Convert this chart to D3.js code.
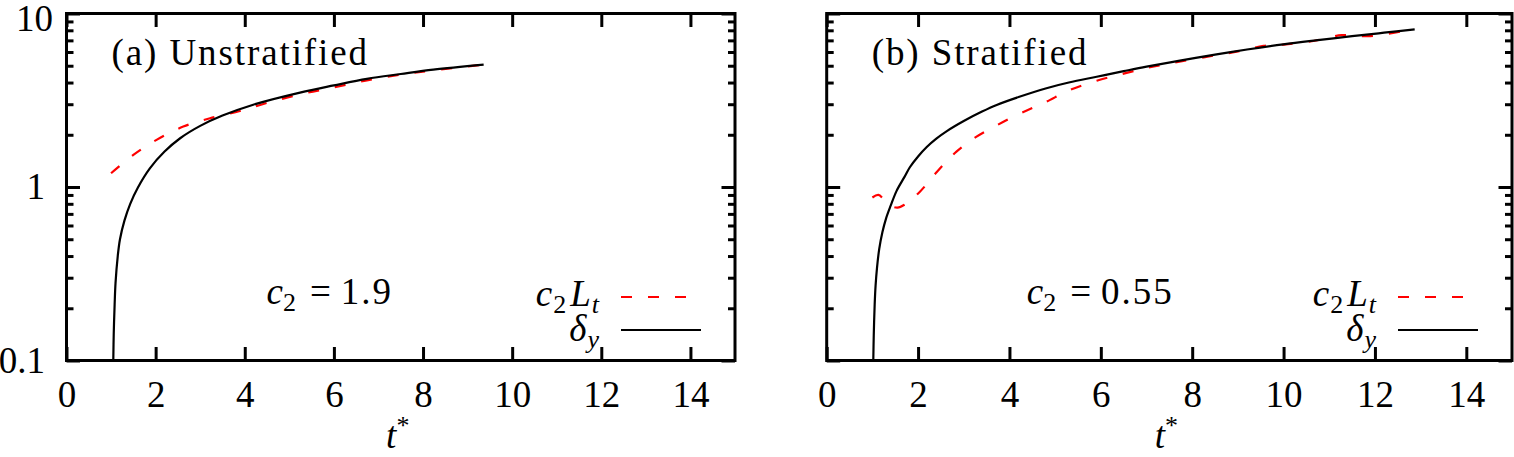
<!DOCTYPE html>
<html>
<head>
<meta charset="utf-8">
<script src="https://cdn.jsdelivr.net/npm/d3@7"></script>
<style>
  body { margin: 0; background: #fff; }
  svg, svg text { font-family: "Liberation Serif", "DejaVu Serif", serif; fill: #000; }
</style>
</head>
<body>
<svg id="chart" width="1514" height="457" font-family="Liberation Serif, DejaVu Serif, serif"></svg>
<script>
// tick values
const xTicks = [0, 2, 4, 6, 8, 10, 12, 14];
const yMajor = [0.1, 1, 10];
const yMajorLabels = ["0.1", "1", "10"];

// (a) unstratified: delta_y (solid) and c2*Lt (dashed)
const tDeltaA = [1.05, 1.06, 1.08, 1.10, 1.15, 1.20, 1.30, 1.43, 1.60, 1.87, 2.20, 2.55, 3.00, 3.50, 4.19, 5.24, 6.00, 6.74, 7.50, 8.23, 9.36];
const deltaA  = [0.10, 0.143, 0.21, 0.279, 0.40, 0.50, 0.64, 0.80, 0.99, 1.28, 1.60, 1.91, 2.25, 2.58, 2.98, 3.50, 3.85, 4.20, 4.48, 4.75, 5.08];
const tLtA    = [1.00, 1.50, 2.02, 2.62, 3.22, 3.89, 4.49, 5.24, 6.00, 6.74, 7.50, 8.23, 9.30];
const c2LtA   = [1.20, 1.53, 1.87, 2.23, 2.49, 2.74, 3.05, 3.42, 3.75, 4.12, 4.45, 4.70, 5.05];

// (b) stratified
const tDeltaB = [1.02, 1.03, 1.05, 1.07, 1.10, 1.15, 1.22, 1.30, 1.40, 1.53, 1.70, 1.82, 2.00, 2.19, 2.40, 2.63, 3.00, 3.40, 3.72, 4.20, 4.81, 5.30, 5.91, 6.50, 7.00, 7.73, 8.50, 9.20, 9.99, 10.70, 11.50, 12.20, 12.87];
const deltaB  = [0.10, 0.14, 0.21, 0.27, 0.34, 0.44, 0.55, 0.66, 0.78, 0.95, 1.14, 1.30, 1.50, 1.70, 1.90, 2.10, 2.40, 2.72, 2.97, 3.30, 3.71, 4.00, 4.32, 4.65, 4.94, 5.35, 5.80, 6.20, 6.64, 7.00, 7.40, 7.75, 8.11];
const tLtB    = [1.00, 1.13, 1.25, 1.40, 1.55, 1.70, 2.04, 2.41, 2.84, 3.28, 3.70, 4.08, 4.50, 4.81, 5.30, 5.91, 6.50, 7.00, 7.50, 8.31, 9.00, 9.56, 10.00, 10.65, 11.27, 11.85, 12.55];
const c2LtB   = [0.87, 0.90, 0.85, 0.78, 0.76, 0.79, 0.94, 1.22, 1.60, 1.95, 2.25, 2.54, 2.85, 3.10, 3.60, 4.10, 4.50, 4.85, 5.15, 5.62, 6.05, 6.50, 6.62, 6.94, 7.50, 7.40, 7.85];

const panels = [
  {left: 66.5, right: 735, labels: true, title: "(a) Unstratified", c2: "1.9",
   solid: [tDeltaA, deltaA], dashed: [tLtA, c2LtA]},
  {left: 826.7, right: 1512, labels: false, title: "(b) Stratified", c2: "0.55",
   solid: [tDeltaB, deltaB], dashed: [tLtB, c2LtB]}
];

const plotTop = 13.5, plotBottom = 360.5;
const fontSize = 37, subSize = 26;
const fontFam = "Liberation Serif, DejaVu Serif, serif";
const red = "#f00";

// minor + major log ticks
const yTicks = [];
[0.1, 1].forEach(e => { for (let m = 1; m <= 9; m++) yTicks.push(+(m * e).toPrecision(3)); });
yTicks.push(10);

const svg = d3.select("#chart");

// text with italic / subscript pieces
function mathText(sel, x, y, anchor, parts) {
  const t = sel.append("text").attr("x", x).attr("y", y)
    .attr("text-anchor", anchor).attr("font-size", fontSize).attr("font-family", fontFam);
  let shift = 0;
  parts.forEach(p => {
    const want = p.sub ? 7 : (p.sup ? -14 : 0);
    t.append("tspan")
      .attr("dx", p.dx || 0)
      .attr("dy", want - shift)
      .attr("font-size", (p.sub || p.sup) ? subSize : fontSize)
      .attr("font-style", p.i ? "italic" : "normal")
      .attr("letter-spacing", p.ls || 0)
      .text(p.t);
    shift = want;
  });
  return t;
}

function styleAxis(g) {
  g.select(".domain").remove();
  g.attr("font-size", fontSize).attr("font-family", fontFam);
  g.selectAll(".tick line").attr("stroke", "#000").attr("stroke-width", 3);
}

panels.forEach(p => {
  const x = d3.scaleLinear().domain([0, 15]).range([p.left, p.right]);
  const y = d3.scaleLog().domain([0.1, 10]).range([plotBottom, plotTop]);
  const g = svg.append("g");
  const isMajor = d => yMajor.includes(d);

  // bottom
  g.append("g").attr("transform", `translate(0,${plotBottom})`)
    .call(d3.axisBottom(x).tickValues(xTicks).tickSize(-13.5).tickPadding(20).tickFormat(d3.format("d")))
    .call(styleAxis);
  // top
  g.append("g").attr("transform", `translate(0,${plotTop})`)
    .call(d3.axisTop(x).tickValues(xTicks).tickSize(-13.5).tickFormat(""))
    .call(styleAxis);
  // left
  const la = g.append("g").attr("transform", `translate(${p.left},0)`)
    .call(d3.axisLeft(y).tickValues(yTicks).tickSize(-7).tickPadding(21.5)
      .tickFormat(d => (p.labels && isMajor(d)) ? yMajorLabels[yMajor.indexOf(d)] : ""))
    .call(styleAxis);
  la.selectAll(".tick line").attr("x2", d => isMajor(d) ? 13.5 : 7);
  la.selectAll(".tick text").filter(d => d === 10).attr("dx", 8).attr("dy", "0.45em");
  // right
  const ra = g.append("g").attr("transform", `translate(${p.right},0)`)
    .call(d3.axisRight(y).tickValues(yTicks).tickSize(-7).tickFormat(""))
    .call(styleAxis);
  ra.selectAll(".tick line").attr("x2", d => isMajor(d) ? -13.5 : -7);

  // frame
  g.append("rect").attr("x", p.left).attr("y", plotTop)
    .attr("width", p.right - p.left).attr("height", plotBottom - plotTop)
    .attr("fill", "none").attr("stroke", "#000").attr("stroke-width", 3);

  const line = d3.line().x(d => x(d[0])).y(d => y(d[1])).curve(d3.curveCatmullRom.alpha(0.5));

  g.append("path").datum(d3.zip(p.dashed[0], p.dashed[1]))
    .attr("d", line).attr("fill", "none").attr("stroke", red)
    .attr("stroke-width", 2.2).attr("stroke-dasharray", "11,16");
  g.append("path").datum(d3.zip(p.solid[0], p.solid[1]))
    .attr("d", line).attr("fill", "none").attr("stroke", "#000")
    .attr("stroke-width", 2.2);

  // labels
  g.append("text").attr("x", p.left + 45).attr("y", 65)
    .attr("font-size", fontSize).attr("font-family", fontFam)
    .attr("letter-spacing", 1.9).text(p.title);
  mathText(g, p.left + 200, 303.5, "start",
    [{t: "c", i: true}, {t: "2", sub: true}, {t: "=", dx: 14, ls: 0}, {t: p.c2, dx: 10, ls: 2}]);
  mathText(g, (p.left + p.right) / 2 - 3, 448, "middle",
    [{t: "t", i: true}, {t: "*", sup: true}]);

  // legend
  mathText(g, p.right - 136, 306, "end",
    [{t: "c", i: true}, {t: "2", sub: true, dx: 1}, {t: "L", i: true, dx: 4}, {t: "t", i: true, sub: true, dx: 1}]);
  mathText(g, p.right - 136, 341, "end",
    [{t: "δ", i: true}, {t: "y", i: true, sub: true, dx: 1}]);
  g.append("line").attr("x1", p.right - 114).attr("x2", p.right - 34)
    .attr("y1", 297).attr("y2", 297)
    .attr("stroke", red).attr("stroke-width", 2.2).attr("stroke-dasharray", "11,16");
  g.append("line").attr("x1", p.right - 114).attr("x2", p.right - 34)
    .attr("y1", 330).attr("y2", 330)
    .attr("stroke", "#000").attr("stroke-width", 2.2);
});
</script>
</body>
</html>
